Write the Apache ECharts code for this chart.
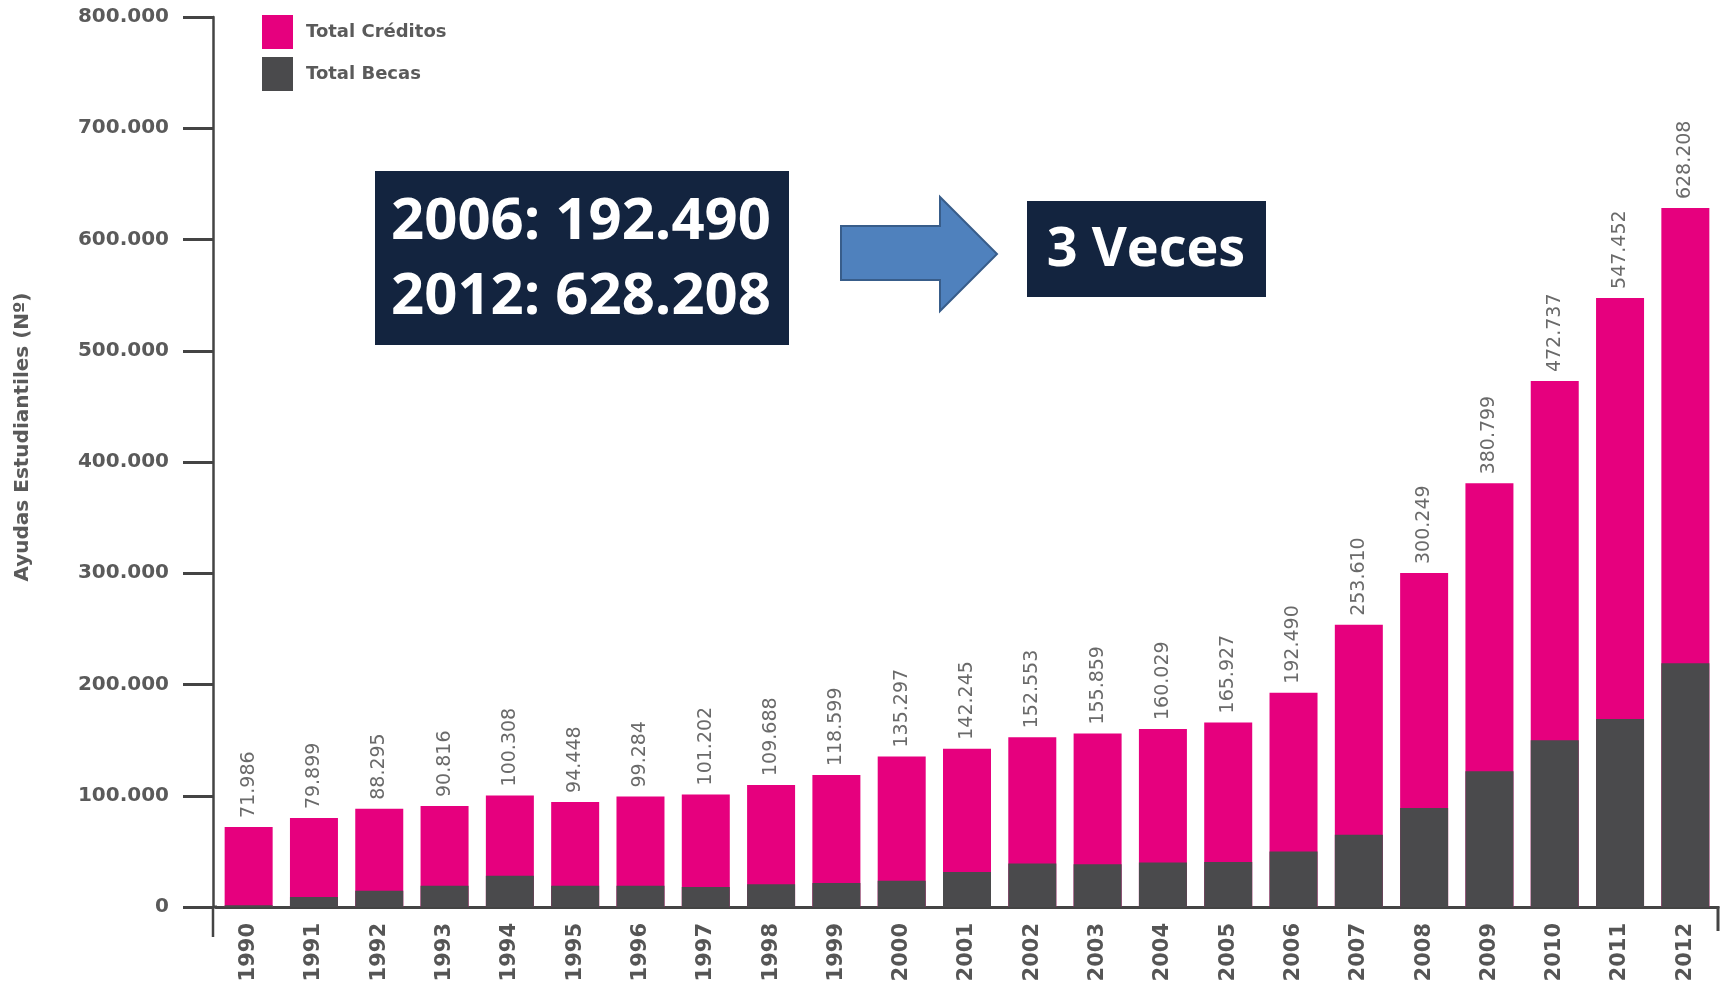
<!DOCTYPE html>
<html>
<head>
<meta charset="utf-8">
<title>Ayudas Estudiantiles</title>
<script src="https://cdn.jsdelivr.net/npm/echarts@6/dist/echarts.min.js"></script>
<style>
  html, body { margin: 0; padding: 0; background: #fff; }
  #chart { width: 1727px; height: 990px; }
</style>
</head>
<body>
<div id="chart"></div>
<script>
// años
const years = ['1990', '1991', '1992', '1993', '1994', '1995', '1996', '1997', '1998', '1999', '2000', '2001',
  '2002', '2003', '2004', '2005', '2006', '2007', '2008', '2009', '2010', '2011', '2012']
// total de ayudas (etiqueta sobre cada barra)
const totals = [71986, 79899, 88295, 90816, 100308, 94448, 99284, 101202, 109688, 118599, 135297, 142245,
  152553, 155859, 160029, 165927, 192490, 253610, 300249, 380799, 472737, 547452, 628208]
// total becas (parte gris, estimado del grafico)
const becas = [1500, 9000, 14500, 19000, 28000, 19000, 19000, 18000, 20500, 21500, 23500, 31500,
  39000, 38500, 40000, 40500, 50000, 65000, 89000, 122000, 150000, 169000, 219000]
// eje Y
const yTicks = [0, 100000, 200000, 300000, 400000, 500000, 600000, 700000, 800000]

const PINK = '#e6007e'
const GREY = '#4a4a4c'
const AXIS = '#444444'
const NAVY = '#13243f'

// 100000 -> "100.000"
function fmt(v) {
  return String(v).replace(/\B(?=(\d{3})+(?!\d))/g, '.')
}

const chart = echarts.init(document.getElementById('chart'))

const option = {
  animation: false,
  grid: { left: 216, right: 9, top: 17, bottom: 83 },
  legend: {
    data: ['Total Créditos', 'Total Becas'],
    orient: 'vertical',
    left: 257,
    top: 10,
    icon: 'rect',
    itemWidth: 31,
    itemHeight: 34,
    itemGap: 8,
    textStyle: {
      fontFamily: 'DejaVu Sans',
      fontWeight: 'bold',
      fontSize: 18,
      color: '#5a5a5a',
      padding: [0, 0, 0, 8]
    }
  },
  xAxis: {
    type: 'category',
    data: years,
    axisLine: { lineStyle: { color: AXIS, width: 3 } },
    axisTick: { show: false },
    axisLabel: {
      rotate: 90,
      margin: 16,
      fontFamily: 'DejaVu Sans',
      fontWeight: 'bold',
      fontSize: 21,
      color: '#555'
    }
  },
  yAxis: {
    type: 'value',
    min: yTicks[0],
    max: yTicks[yTicks.length - 1],
    interval: yTicks[1] - yTicks[0],
    offset: 3,
    name: 'Ayudas Estudiantiles (Nº)',
    nameLocation: 'middle',
    nameGap: 180,
    nameTextStyle: {
      fontFamily: 'DejaVu Sans',
      fontWeight: 'bold',
      fontSize: 20,
      color: '#5a5a5a',
      padding: [0, 0, 0, 50]
    },
    splitLine: { show: false },
    axisLine: { show: true, lineStyle: { color: AXIS, width: 2.5 } },
    axisTick: { show: true, length: 30, lineStyle: { color: AXIS, width: 3 } },
    axisLabel: {
      margin: 44,
      formatter: fmt,
      fontFamily: 'DejaVu Sans',
      fontWeight: 'bold',
      fontSize: 20,
      color: '#5a5a5a'
    }
  },
  series: [
    {
      name: 'Total Créditos',
      type: 'bar',
      data: totals,
      barWidth: 48,
      itemStyle: { color: PINK },
      label: {
        show: true,
        position: 'top',
        rotate: 90,
        align: 'left',
        verticalAlign: 'middle',
        distance: 9,
        fontFamily: 'DejaVu Sans',
        fontSize: 19,
        color: '#6a6a6a',
        formatter: p => fmt(p.value)
      }
    },
    {
      name: 'Total Becas',
      type: 'bar',
      data: becas,
      barWidth: 48,
      barGap: '-100%',
      itemStyle: { color: GREY }
    }
  ]
}

chart.setOption(option)

// extensiones del eje y recuadros de anotacion
const gridRect = chart.getModel().getComponent('grid').coordinateSystem.getRect()
const yAxisX = gridRect.x - 3
const axisY = gridRect.y + gridRect.height
const xRight = gridRect.x + gridRect.width

chart.setOption({
  graphic: [
    // eje Y baja bajo el cero
    { type: 'line', shape: { x1: yAxisX, y1: axisY, x2: yAxisX, y2: axisY + 30 },
      style: { stroke: AXIS, lineWidth: 2.5 } },
    // une el eje Y con el eje X
    { type: 'line', shape: { x1: yAxisX, y1: axisY, x2: gridRect.x + 1, y2: axisY },
      style: { stroke: AXIS, lineWidth: 3 } },
    // marca final del eje X
    { type: 'line', shape: { x1: xRight, y1: axisY - 1, x2: xRight, y2: axisY + 24 },
      style: { stroke: AXIS, lineWidth: 3 } },
    // recuadro 2006 / 2012
    { type: 'rect', shape: { x: 375, y: 171, width: 414, height: 174 },
      style: { fill: NAVY } },
    { type: 'text', x: 581, y: 222,
      style: { text: '2006: 192.490', fill: '#fff', font: 'bold 58px "Open Sans"',
        align: 'center', verticalAlign: 'middle' } },
    { type: 'text', x: 581, y: 297,
      style: { text: '2012: 628.208', fill: '#fff', font: 'bold 58px "Open Sans"',
        align: 'center', verticalAlign: 'middle' } },
    // flecha
    { type: 'polygon',
      shape: { points: [[841, 226], [940, 226], [940, 197], [997, 254], [940, 311], [940, 280], [841, 280]] },
      style: { fill: '#4f81bd', stroke: '#385d8a', lineWidth: 2 } },
    // recuadro 3 veces
    { type: 'rect', shape: { x: 1027, y: 201, width: 239, height: 96 },
      style: { fill: NAVY } },
    { type: 'text', x: 1146, y: 251,
      style: { text: '3 Veces', fill: '#fff', font: 'bold 54px "Open Sans"',
        align: 'center', verticalAlign: 'middle' } }
  ]
})
</script>
</body>
</html>
